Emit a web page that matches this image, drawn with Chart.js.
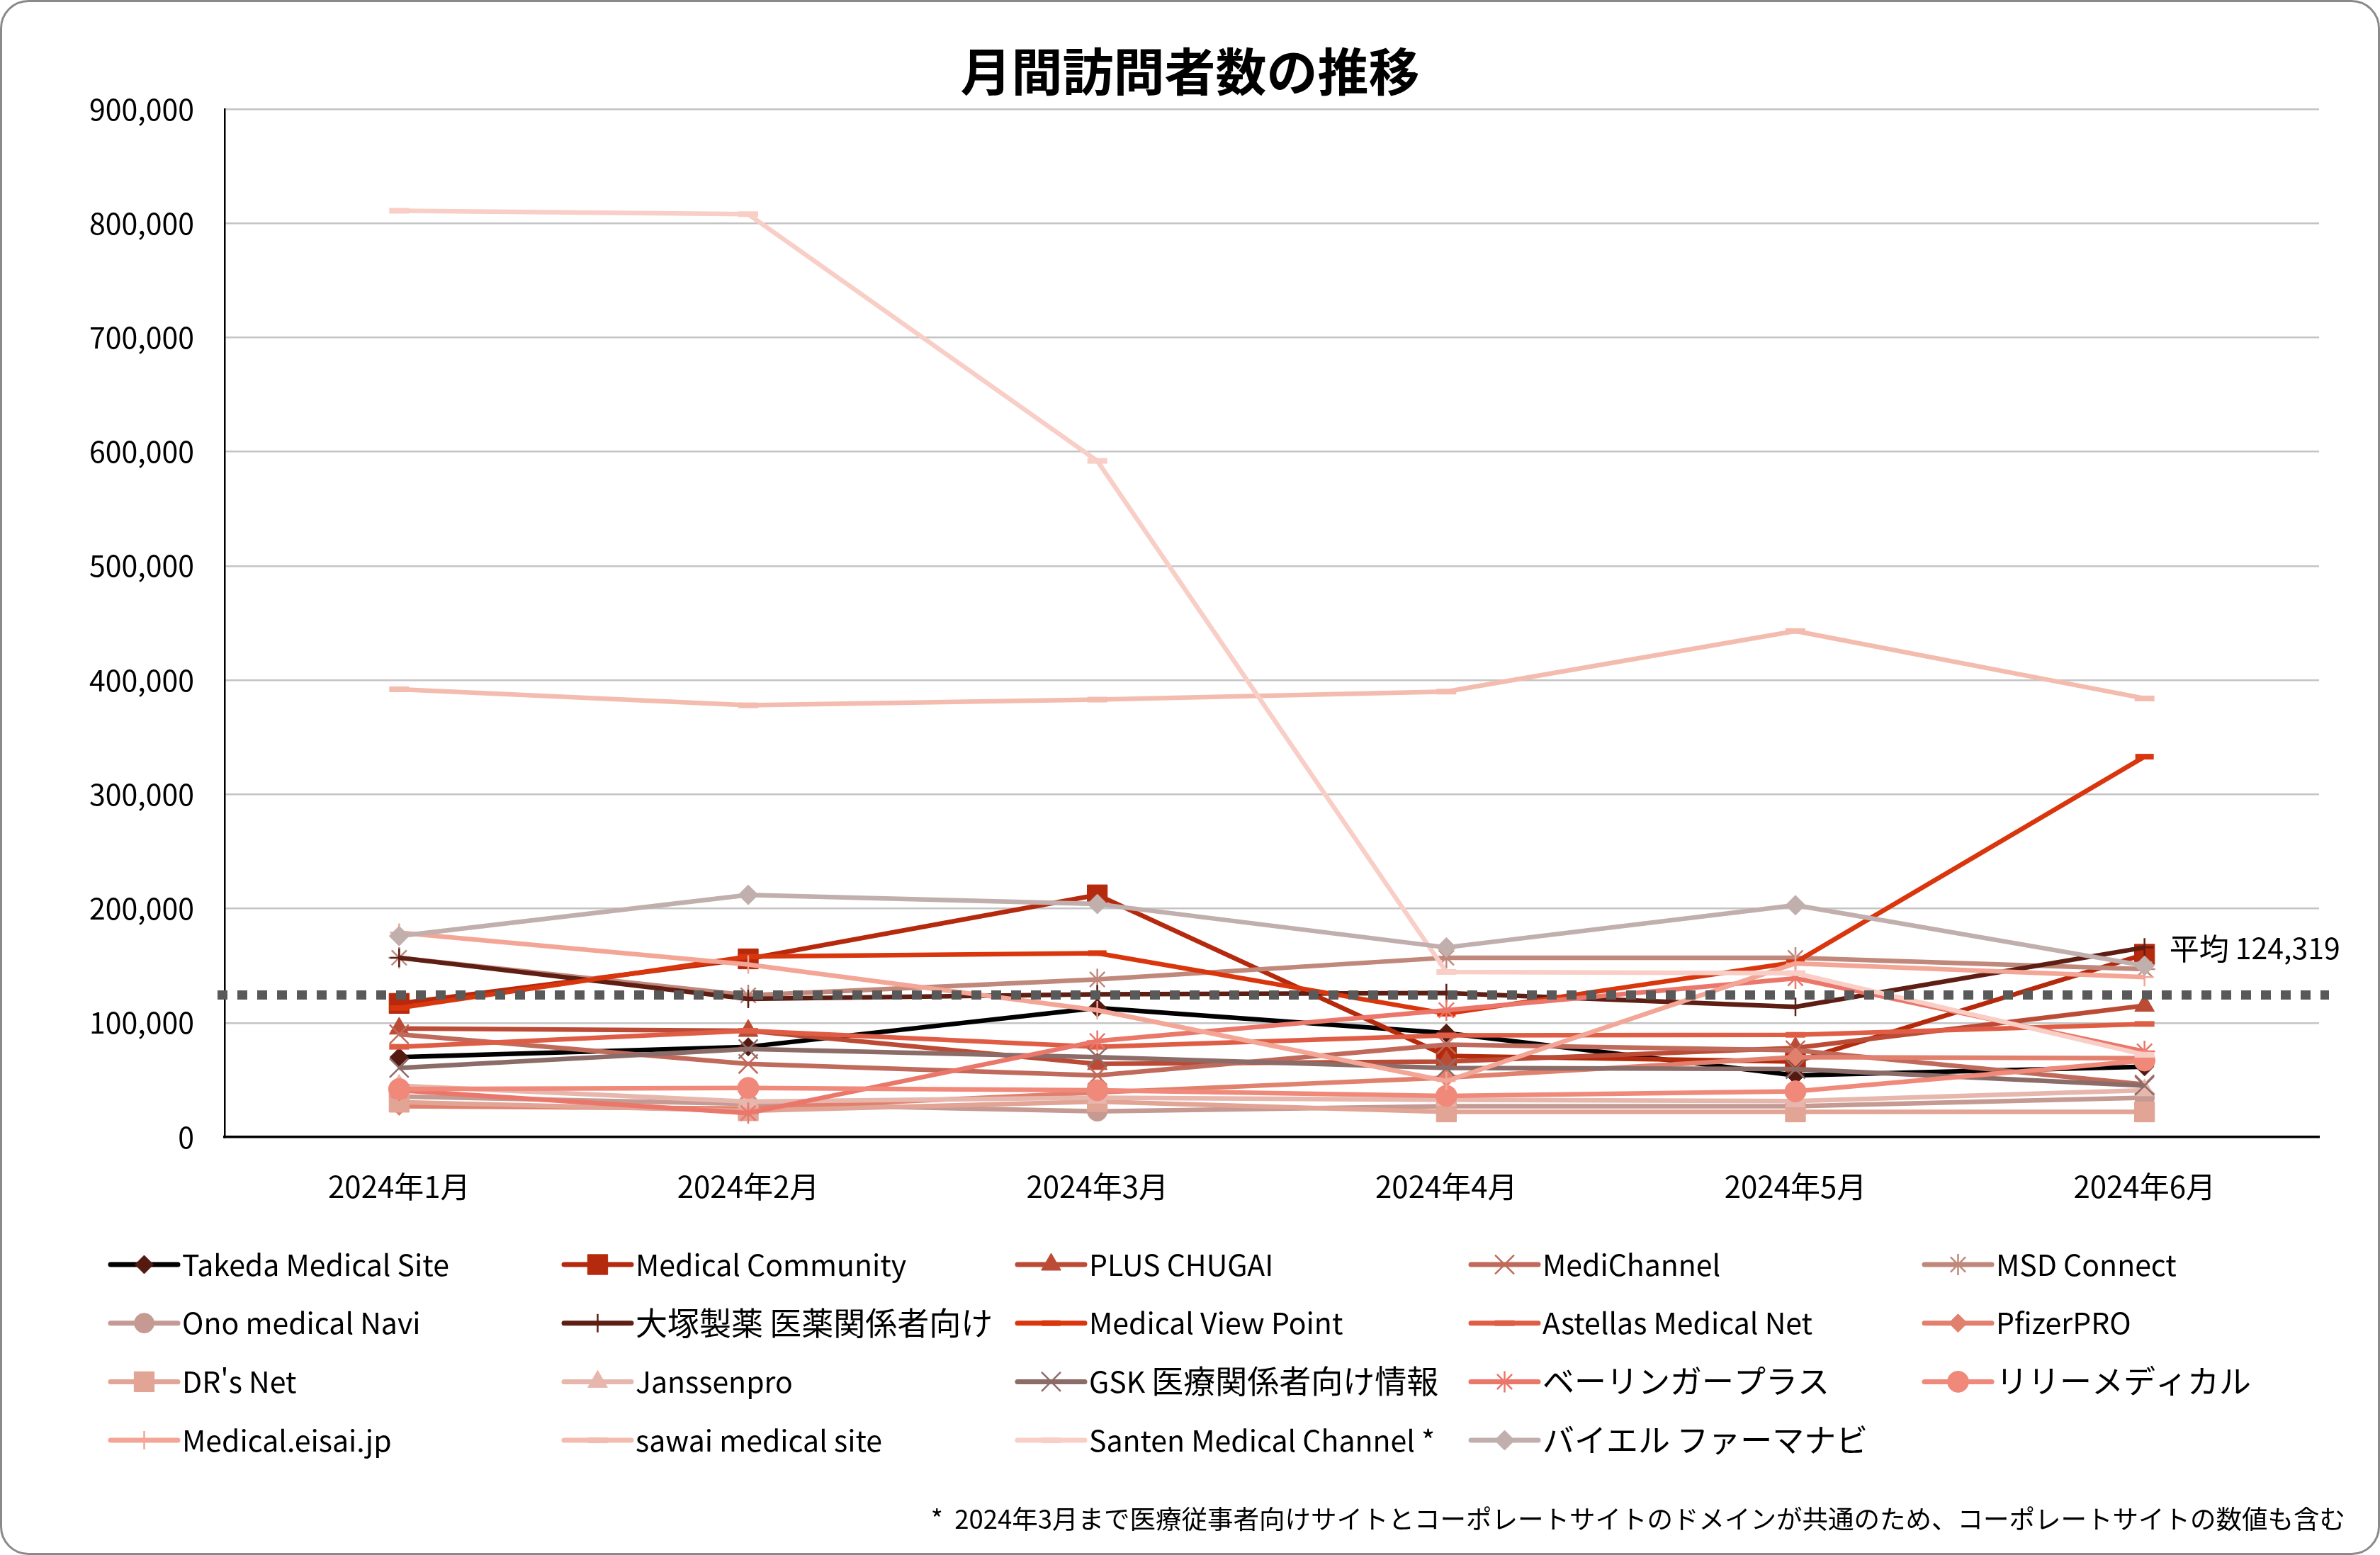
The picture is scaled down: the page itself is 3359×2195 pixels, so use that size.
<!DOCTYPE html>
<html lang="ja">
<head>
<meta charset="utf-8">
<title>月間訪問者数の推移</title>
<script src="https://cdn.jsdelivr.net/npm/chart.js@4.4.1/dist/chart.umd.min.js"></script>
<style>
  html, body { margin: 0; padding: 0; background: #fff; }
  #wrap { position: relative; width: 3359px; height: 2195px; overflow: hidden; }
  #chart { position: absolute; left: 0; top: 0; }
  #frame { position: absolute; left: 0; top: 0; width: 3359px; height: 2195px; box-sizing: border-box;
           border: 3px solid #8a8a8a; border-radius: 40px; pointer-events: none; }
</style>
</head>
<body>
<div id="wrap">
  <canvas id="chart" width="3359" height="2195"></canvas>
  <div id="frame"></div>
</div>
<script>
'use strict';

// data
const months = ['2024年1月', '2024年2月', '2024年3月', '2024年4月', '2024年5月', '2024年6月'];

const siteNames = ['Takeda Medical Site', 'Medical Community', 'PLUS CHUGAI', 'MediChannel', 'MSD Connect',
  'Ono medical Navi', '大塚製薬 医薬関係者向け', 'Medical View Point', 'Astellas Medical Net', 'PfizerPRO',
  'DR\'s Net', 'Janssenpro', 'GSK 医療関係者向け情報', 'ベーリンガープラス', 'リリーメディカル',
  'Medical.eisai.jp', 'sawai medical site', 'Santen Medical Channel *', 'バイエル ファーマナビ'];

const takeda = [70000, 79000, 113000, 91000, 54000, 61500];
const medicalCommunity = [117000, 156000, 212000, 71000, 66000, 160000];
const plusChugai = [95000, 93000, 64000, 66000, 78000, 115000];
const mediChannel = [90000, 64000, 54000, 81000, 76000, 46000];
const msdConnect = [157000, 124000, 138000, 157000, 157000, 147000];
const onoNavi = [35500, 29000, 22500, 27000, 27000, 34500];
const otsuka = [157000, 121000, 125000, 126000, 114000, 166000];
const medicalViewPoint = [113000, 158000, 161000, 108000, 153000, 333000];
const astellas = [79000, 93000, 79000, 89000, 89500, 99000];
const pfizerPro = [27000, 25000, 39000, 52000, 70000, 69000];
const drsNet = [30500, 23000, 31000, 22000, 22000, 22000];
const janssenpro = [45000, 31000, 34500, 32500, 31500, 41000];
const gsk = [60500, 77000, 70000, 60500, 59500, 45000];
const boehringer = [41000, 21000, 84000, 111000, 139000, 75000];
const lillyMedical = [42000, 43000, 41000, 36000, 40000, 67000];
const eisai = [179000, 151000, 111000, 49000, 152000, 140000];
const sawai = [392000, 378000, 383000, 390000, 443000, 384000];
const santen = [811000, 808000, 592000, 144500, 143500, 72000];
const bayer = [176000, 212000, 204000, 166000, 203000, 150000];

const averageValue = 124319;
const yTickValues = [0, 100000, 200000, 300000, 400000, 500000, 600000, 700000, 800000, 900000];

const titleText = '月間訪問者数の推移';
const averageLabel = '平均';
const footnoteText = '*  2024年3月まで医療従事者向けサイトとコーポレートサイトのドメインが共通のため、コーポレートサイトの数値も含む';

const seriesValues = [takeda, medicalCommunity, plusChugai, mediChannel, msdConnect, onoNavi, otsuka,
  medicalViewPoint, astellas, pfizerPro, drsNet, janssenpro, gsk, boehringer, lillyMedical, eisai, sawai, santen, bayer];

const lineColors = ['#000000', '#b5290c', '#bc4b36', '#c06a5b', '#c0887b', '#c49a93', '#5e1e14', '#d9360d',
  '#e05d45', '#e2806e', '#e1a495', '#e7b7ad', '#8c6c68', '#eb766a', '#f0897a', '#f3a596', '#f3bcaf', '#f8cec6', '#c0afad'];

const markerColors = ['#541a12', '#b5290c', '#bc4b36', '#c06a5b', '#c0887b', '#c49a93', '#5e1e14', '#d9360d',
  '#e05d45', '#e2806e', '#e1a495', '#e7b7ad', '#8c6c68', '#eb766a', '#f0897a', '#f3a596', '#f3bcaf', '#f8cec6', '#c0afad'];

// marker shape, radius, stroke width
const markers = [
  ['rectRot', 13, 1], ['rect', 20, 1], ['triangle', 16, 1], ['crossRot', 19, 2.5], ['star', 15, 2.5],
  ['circle', 14, 1], ['cross', 13, 2.5], ['line', 13, 8], ['line', 14, 8], ['rectRot', 13, 1],
  ['rect', 20, 1], ['triangle', 16, 1], ['crossRot', 19, 2.5], ['star', 15, 2.5], ['circle', 15, 1],
  ['cross', 13, 2.5], ['line', 14, 8], ['line', 14, 8], ['rectRot', 14, 1]
];

const fontFamily = "'Noto Sans CJK JP', 'Noto Sans', sans-serif";
const cjkRun = /[\u3000-\u30ff\u4e00-\u9fff\uff00-\uffef]/;

// japanese glyphs run a bit wider than the latin ones in the original
function drawMixedText(ctx, text, x, y, latinSize, cjkSize) {
  const runs = text.match(/[\u3000-\u30ff\u4e00-\u9fff\uff00-\uffef]+|[^\u3000-\u30ff\u4e00-\u9fff\uff00-\uffef]+/g) || [];
  runs.forEach(function(run) {
    ctx.font = (cjkRun.test(run) ? cjkSize : latinSize) + 'px ' + fontFamily;
    ctx.fillText(run, x, y);
    x += ctx.measureText(run).width;
  });
}

const datasets = siteNames.map(function(name, i) {
  return {
    label: name,
    data: seriesValues[i],
    borderColor: lineColors[i],
    backgroundColor: lineColors[i],
    borderWidth: 6.5,
    borderJoinStyle: 'round',
    tension: 0,
    pointStyle: markers[i][0],
    pointRadius: markers[i][1],
    pointBorderWidth: markers[i][2],
    pointBackgroundColor: markerColors[i],
    pointBorderColor: markerColors[i],
    order: siteNames.length - i,
    clip: false
  };
});

// dotted average line, its label, the 5-column legend and the footnote
const extrasPlugin = {
  id: 'extras',
  afterDatasetsDraw(chart) {
    const ctx = chart.ctx;
    const area = chart.chartArea;
    const y = chart.scales.y.getPixelForValue(averageValue);
    ctx.save();
    ctx.setLineDash([14, 14]);
    ctx.lineWidth = 13;
    ctx.strokeStyle = '#595959';
    ctx.beginPath();
    ctx.moveTo(area.left - 10, y);
    ctx.lineTo(area.right + 14, y);
    ctx.stroke();
    ctx.restore();

    ctx.save();
    ctx.fillStyle = '#000';
    ctx.textBaseline = 'middle';
    ctx.textAlign = 'left';
    const lastX = chart.scales.x.getPixelForValue(months.length - 1);
    drawMixedText(ctx, averageLabel + ' ' + averageValue.toLocaleString('en-US'), lastX + 35, y - 66, 41, 42);
    ctx.restore();
  },
  afterDraw(chart) {
    const ctx = chart.ctx;
    ctx.save();
    chart.data.datasets.forEach(function(ds, i) {
      const col = i % 5;
      const row = Math.floor(i / 5);
      const x0 = 156 + col * 640;
      const y = 1785 + row * 82.7;
      ctx.setLineDash([]);
      ctx.lineCap = 'round';
      ctx.lineWidth = 7;
      ctx.strokeStyle = ds.borderColor;
      ctx.beginPath();
      ctx.moveTo(x0, y);
      ctx.lineTo(x0 + 95, y);
      ctx.stroke();

      ctx.lineCap = 'butt';
      ctx.fillStyle = ds.pointBackgroundColor;
      ctx.strokeStyle = ds.pointBorderColor;
      ctx.lineWidth = ds.pointBorderWidth;
      Chart.helpers.drawPoint(ctx, {
        pointStyle: ds.pointStyle,
        radius: ds.pointRadius,
        borderWidth: ds.pointBorderWidth,
        rotation: 0
      }, x0 + 47.5, y);

      ctx.fillStyle = '#000';
      ctx.textBaseline = 'middle';
      ctx.textAlign = 'left';
      drawMixedText(ctx, ds.label, x0 + 101, y, 41, 45);
    });

    ctx.font = '36.5px ' + fontFamily;
    ctx.fillStyle = '#000';
    ctx.textAlign = 'right';
    ctx.textBaseline = 'middle';
    ctx.fillText(footnoteText, 3310, 2144);
    ctx.restore();
  }
};

const ctx = document.getElementById('chart').getContext('2d');
new Chart(ctx, {
  type: 'line',
  data: {
    labels: months,
    datasets: datasets
  },
  options: {
    responsive: false,
    animation: false,
    devicePixelRatio: 1,
    layout: { padding: { left: 86, right: 86, top: 0, bottom: 0 } },
    plugins: {
      legend: { display: false },
      tooltip: { enabled: false },
      title: {
        display: true,
        text: titleText,
        color: '#000',
        font: { family: fontFamily, size: 72, weight: 'bold', lineHeight: 1.2 },
        padding: { top: 57, bottom: 10.6 }
      }
    },
    scales: {
      x: {
        offset: true,
        grid: { display: false, drawTicks: false },
        border: { display: true, color: '#000', width: 3.5 },
        ticks: {
          color: '#000',
          font: { family: fontFamily, size: 42 },
          padding: 45,
          maxRotation: 0,
          autoSkip: false
        },
        afterFit: function(scale) { scale.height = 590; }
      },
      y: {
        min: 0,
        max: 900000,
        afterBuildTicks: function(scale) {
          scale.ticks = yTickValues.map(function(v) { return { value: v }; });
        },
        afterFit: function(scale) { scale.width = 231; },
        grid: {
          drawTicks: false,
          lineWidth: 2.5,
          color: function(c) { return c.tick && c.tick.value === 0 ? 'rgba(0,0,0,0)' : '#c4c4c4'; }
        },
        border: { display: true, color: '#000', width: 2.5 },
        ticks: {
          color: '#000',
          font: { family: fontFamily, size: 41 },
          padding: 43,
          callback: function(v) { return Number(v).toLocaleString('en-US'); }
        }
      }
    }
  },
  plugins: [extrasPlugin]
});
</script>
</body>
</html>
